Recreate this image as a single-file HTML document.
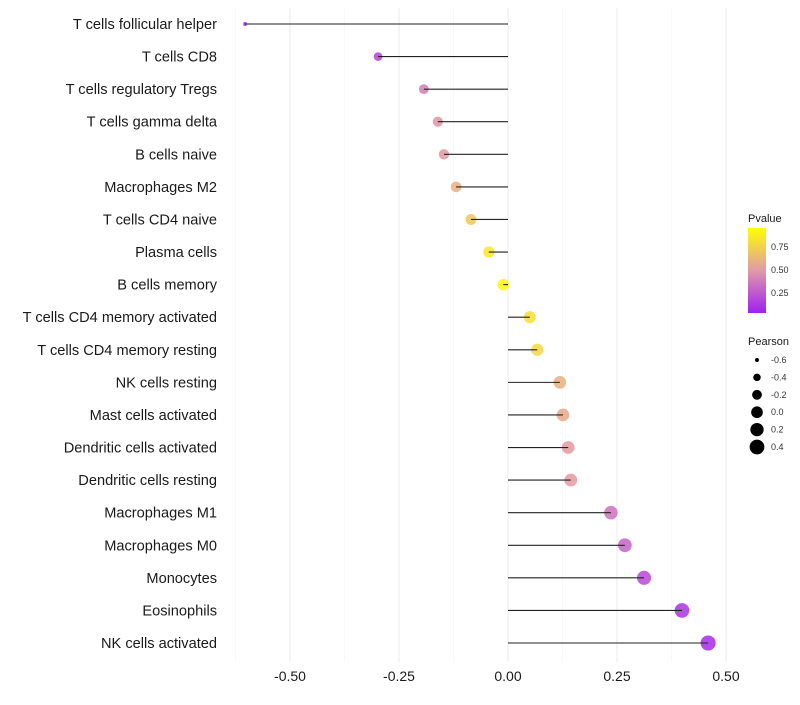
<!DOCTYPE html>
<html><head><meta charset="utf-8"><style>
body{margin:0;background:#fff;}
svg text{font-family:"Liberation Sans",Arial,sans-serif;}
</style></head><body>
<svg id="chart" width="800" height="700" xmlns="http://www.w3.org/2000/svg">
<defs><linearGradient id="pg" x1="0" y1="1" x2="0" y2="0">
<stop offset="0" stop-color="#A020F0"/><stop offset="0.5" stop-color="#E09AA8"/><stop offset="1" stop-color="#FFFF00"/></linearGradient></defs>
<g id="grid"></g>
<g id="marks"></g>
<g id="ylabels"></g>
<g id="xlabels"></g>
<g>
<text x="748" y="222" font-size="11" fill="#1a1a1a">Pvalue</text>
<rect x="748" y="228" width="18" height="85" fill="url(#pg)"/>
<text x="771" y="250" font-size="9" fill="#333">0.75</text>
<text x="771" y="273" font-size="9" fill="#333">0.50</text>
<text x="771" y="296" font-size="9" fill="#333">0.25</text>
</g>
<g id="sizeLegend">
<text x="748" y="345" font-size="11" fill="#1a1a1a">Pearson</text>
</g>
</svg>
<script>
const categories=["T cells follicular helper","T cells CD8","T cells regulatory  Tregs ","T cells gamma delta","B cells naive","Macrophages M2","T cells CD4 naive","Plasma cells","B cells memory","T cells CD4 memory activated","T cells CD4 memory resting","NK cells resting","Mast cells activated","Dendritic cells activated","Dendritic cells resting","Macrophages M1","Macrophages M0","Monocytes","Eosinophils","NK cells activated"];
const pearson=[-0.603,-0.298,-0.193,-0.161,-0.147,-0.119,-0.085,-0.044,-0.011,0.050,0.067,0.119,0.126,0.138,0.144,0.236,0.268,0.312,0.399,0.459];
const pvalue=[0.04,0.15,0.38,0.47,0.49,0.6,0.72,0.88,0.98,0.84,0.8,0.6,0.57,0.5,0.5,0.33,0.27,0.17,0.08,0.04];
const xTicks=[-0.5,-0.25,0,0.25,0.5];
const xTickLabels=["-0.50","-0.25","0.00","0.25","0.50"];
const sizeLegendValues=[-0.6,-0.4,-0.2,0.0,0.2,0.4];
const sizeLegendLabels=["-0.6","-0.4","-0.2","0.0","0.2","0.4"];
const NS="http://www.w3.org/2000/svg";
const x=v=>508+v*436;
const y=i=>24+i*(643-24)/(categories.length-1);
const rad=v=>Math.sqrt(Math.max(1,4+(v+0.6)*50));
function col(p){
  const stops=[[0,[160,32,240]],[0.5,[228,154,160]],[1,[255,255,0]]];
  let a=stops[0],b=stops[1];if(p>0.5){a=stops[1];b=stops[2];}
  const t=Math.max(0,Math.min(1,(p-a[0])/(b[0]-a[0])));
  const c=a[1].map((v,k)=>Math.round(v+(b[1][k]-v)*t));
  return `rgb(${c.join(',')})`;
}
function mk(tag,attrs,parent){const e=document.createElementNS(NS,tag);for(const k in attrs)e.setAttribute(k,attrs[k]);parent.appendChild(e);return e;}
const grid=document.getElementById('grid'),marks=document.getElementById('marks'),yl=document.getElementById('ylabels'),xl=document.getElementById('xlabels');
for(let v=-0.625;v<=0.51;v+=0.125){
  const major=Math.abs((v*4)-Math.round(v*4))<1e-6;
  const g=mk('line',{x1:x(v),x2:x(v),y1:8,y2:662,stroke:major?'#ebebeb':'#f3f3f3','stroke-width':major?1:0.6},grid);
  
  
}
xTicks.forEach((v,i)=>{
  const t=mk('text',{x:x(v),y:681,'font-size':14,'text-anchor':'middle',fill:'#1a1a1a'},xl);
  t.textContent=xTickLabels[i];
  
  
});
categories.forEach((c,i)=>{
  const t=mk('text',{x:217,y:y(i)+5,'font-size':14.6,'text-anchor':'end',fill:'#1a1a1a'},yl);
  t.textContent=c;
  
  
  const d=mk('circle',{cx:x(pearson[i]),cy:y(i),r:rad(pearson[i]),fill:col(pvalue[i]),'fill-opacity':0.85},marks);
  
  
  const l=mk('line',{x1:x(0),x2:x(pearson[i]),y1:y(i),y2:y(i),stroke:'#222','stroke-width':1.1},marks);
  
  
});
const sl=document.getElementById('sizeLegend');
sizeLegendValues.forEach((v,i)=>{
  const cy=360+i*17.4;
  const c=mk('circle',{cx:757,cy:cy,r:rad(v),fill:'#000'},sl);
  
  
  const t=mk('text',{x:771,y:cy+3,'font-size':9,fill:'#333'},sl);
  t.textContent=sizeLegendLabels[i];
  
  
});
</script>
</body></html>
